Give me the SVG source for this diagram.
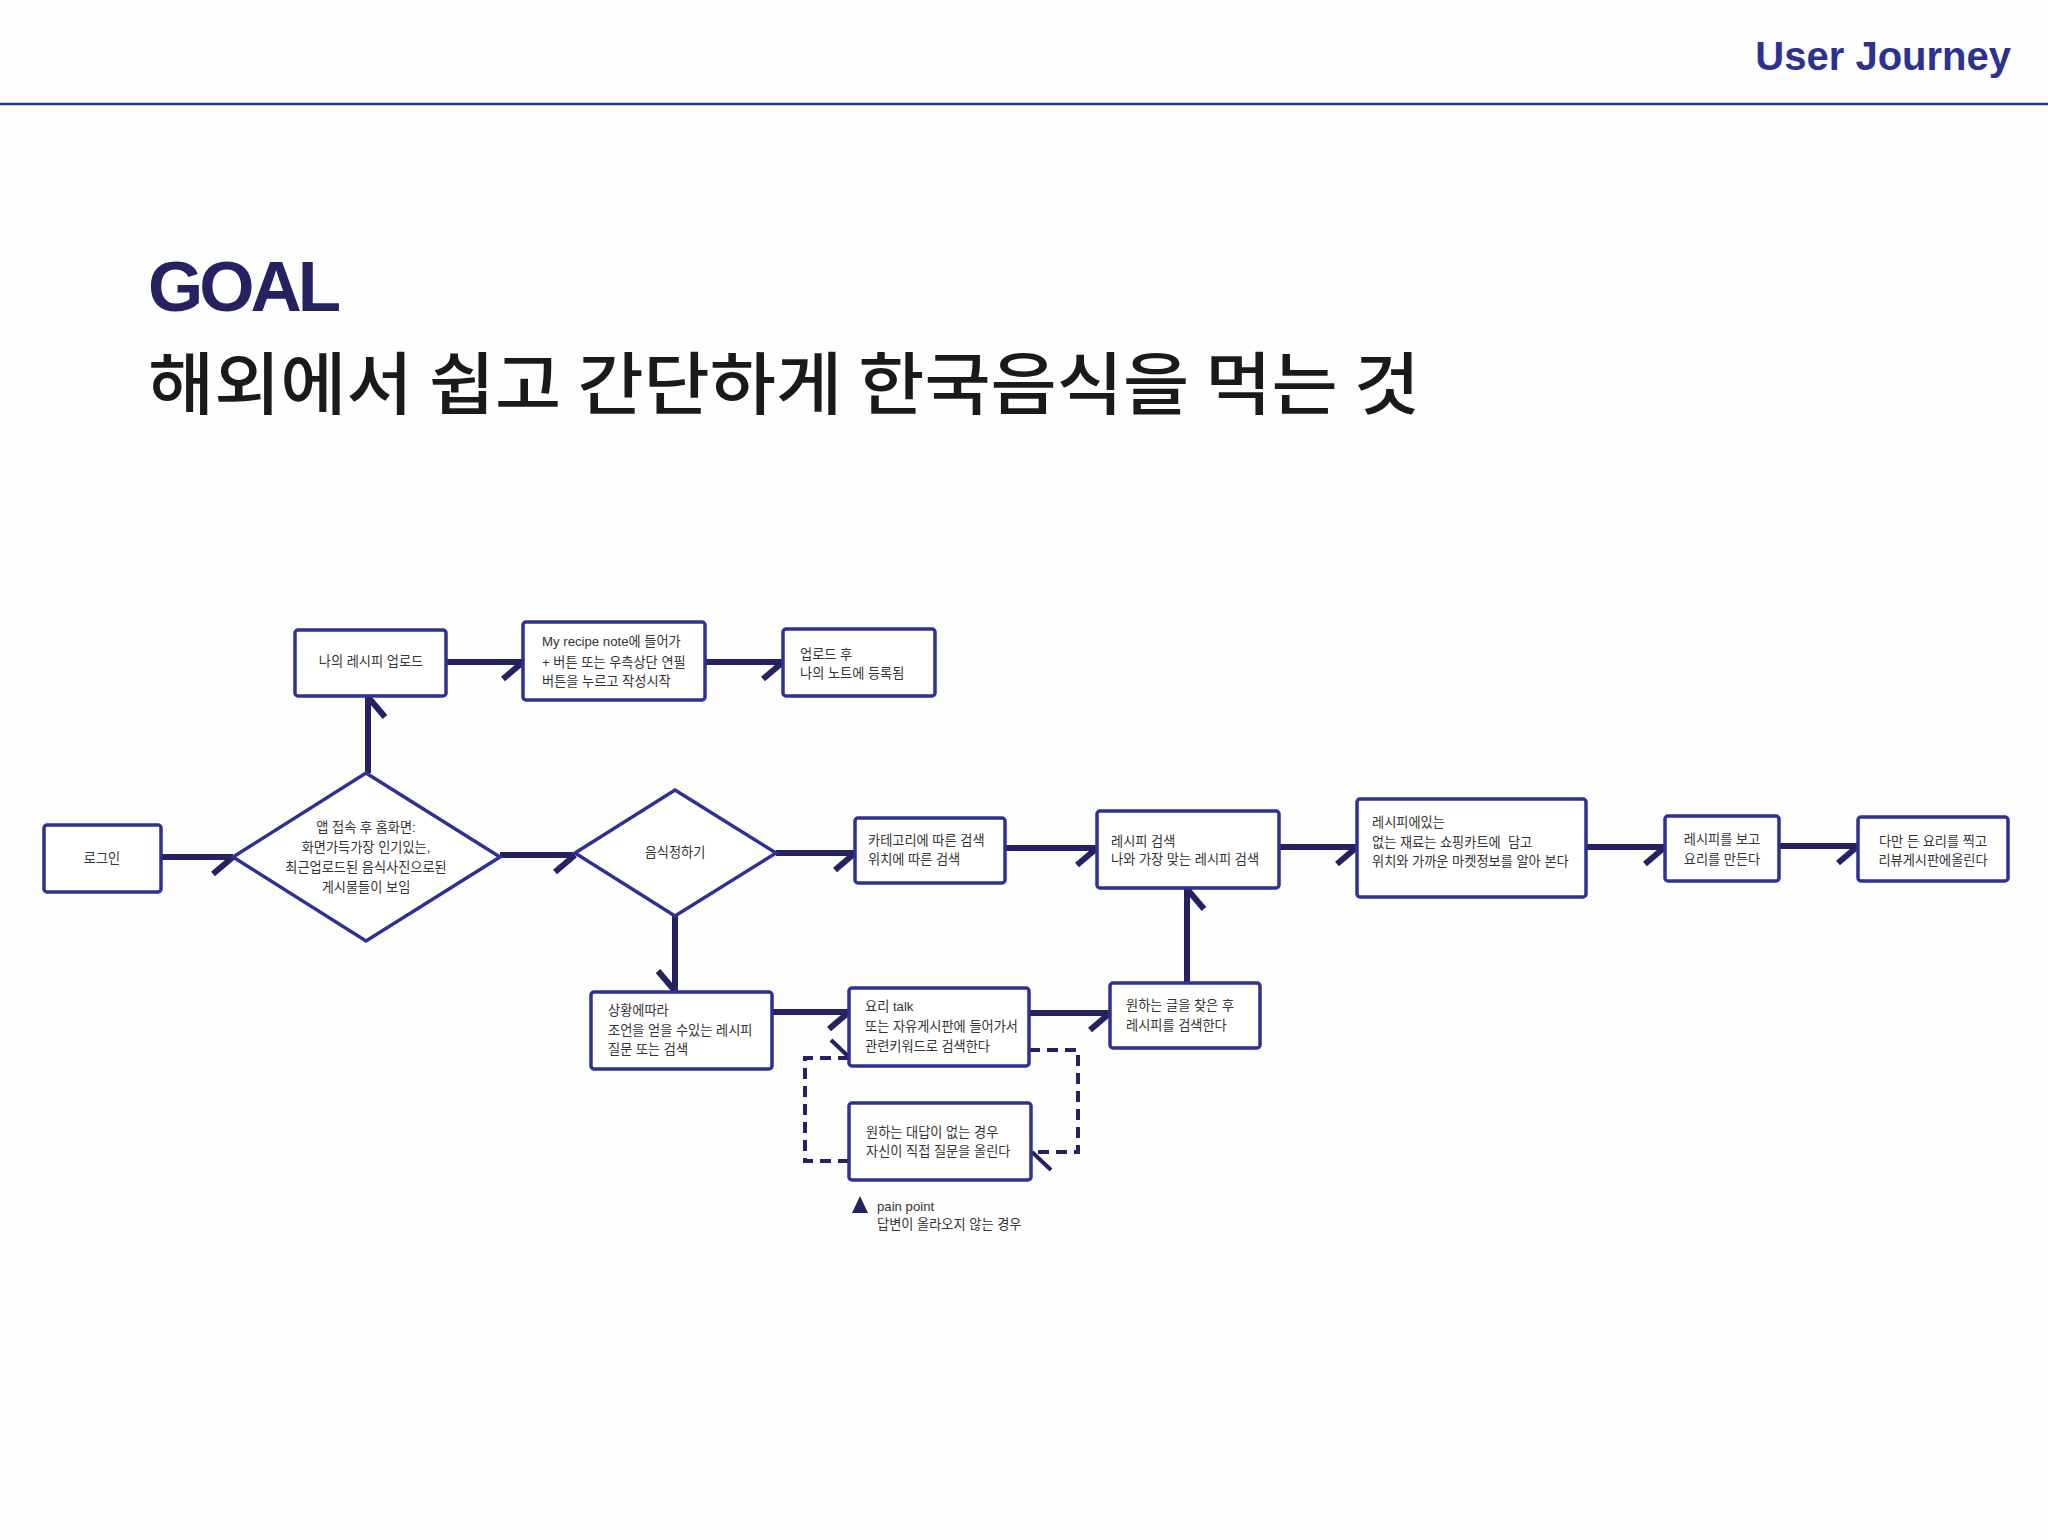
<svg xmlns="http://www.w3.org/2000/svg" width="2048" height="1540" viewBox="0 0 2048 1540">
<defs>
<style>
.box{fill:#ffffff;stroke:#2e3192;stroke-width:3.5}
.dia{fill:#ffffff;stroke:#2e3192;stroke-width:3.5}
.t{font-family:"Liberation Sans","Noto Sans CJK KR",sans-serif;font-size:13.2px;fill:#333333}
.c{text-anchor:middle}
.conn{fill:none;stroke:#262262;stroke-width:6}
.dash{fill:none;stroke:#262262;stroke-width:4;stroke-dasharray:11 7}
</style>
<marker id="barb" markerUnits="userSpaceOnUse" markerWidth="40" markerHeight="40" refX="0" refY="0" orient="auto" overflow="visible">
<path d="M0,0 L-20,17" stroke="#262262" stroke-width="6" fill="none"/>
</marker>
<marker id="barb2" markerUnits="userSpaceOnUse" markerWidth="40" markerHeight="40" refX="0" refY="0" orient="auto" overflow="visible">
<path d="M0,0 L-19,-18" stroke="#262262" stroke-width="4" fill="none"/>
</marker>
</defs>
<rect x="0" y="0" width="2048" height="1540" fill="#fdfdfd"/>
<g id="header">
<line x1="0" y1="104" x2="2048" y2="104" stroke="#2e3192" stroke-width="2.5"/>
<text x="2011" y="70" text-anchor="end" font-family="Liberation Sans, sans-serif" font-weight="bold" font-size="40" fill="#2e3192">User Journey</text>
<text x="148" y="311" font-family="Liberation Sans, sans-serif" font-weight="bold" font-size="71" fill="#262262" textLength="193" lengthAdjust="spacing">GOAL</text>
<text x="148" y="409" font-family="Noto Sans CJK KR, sans-serif" font-weight="500" font-size="68" fill="#1a1a1a" textLength="1272" lengthAdjust="spacingAndGlyphs">해외에서 쉽고 간단하게 한국음식을 먹는 것</text>
</g>
<g id="connectors">
<line class="conn" x1="161" y1="857" x2="233" y2="857" marker-end="url(#barb)"/>
<line class="conn" x1="368" y1="773" x2="368" y2="697" marker-end="url(#barb)"/>
<line class="conn" x1="446" y1="662" x2="523" y2="662" marker-end="url(#barb)"/>
<line class="conn" x1="705" y1="662" x2="783" y2="662" marker-end="url(#barb)"/>
<line class="conn" x1="500" y1="855" x2="575" y2="855" marker-end="url(#barb)"/>
<line class="conn" x1="776" y1="853" x2="855" y2="853" marker-end="url(#barb)"/>
<line class="conn" x1="675" y1="916" x2="675" y2="991" marker-end="url(#barb)"/>
<line class="conn" x1="1005" y1="848" x2="1097" y2="848" marker-end="url(#barb)"/>
<line class="conn" x1="1279" y1="847" x2="1357" y2="847" marker-end="url(#barb)"/>
<line class="conn" x1="1586" y1="847" x2="1665" y2="847" marker-end="url(#barb)"/>
<line class="conn" x1="1779" y1="846" x2="1858" y2="846" marker-end="url(#barb)"/>
<line class="conn" x1="772" y1="1012" x2="849" y2="1012" marker-end="url(#barb)"/>
<line class="conn" x1="1029" y1="1013" x2="1110" y2="1013" marker-end="url(#barb)"/>
<line class="conn" x1="1187" y1="983" x2="1187" y2="889" marker-end="url(#barb)"/>
<path class="dash" d="M849,1161 L805,1161 L805,1058 L850,1058" marker-end="url(#barb2)"/>
<path class="dash" d="M1029,1050 L1078,1050 L1078,1152 L1032,1152" marker-end="url(#barb2)"/>
</g>
<g id="n-login"><rect class="box" x="44" y="825" width="117" height="67" rx="3"/><text class="t c" x="102" y="863">로그인</text></g>
<g id="n-home"><polygon class="dia" points="366,773 500,857 366,941 233,857"/>
<text class="t c" x="366" y="832">앱 접속 후 홈화면:</text>
<text class="t c" x="366" y="852">화면가득가장 인기있는,</text>
<text class="t c" x="366" y="872">최근업로드된 음식사진으로된</text>
<text class="t c" x="366" y="892">게시물들이 보임</text></g>
<g id="n-upload"><rect class="box" x="295" y="630" width="151" height="66" rx="3"/><text class="t c" x="371" y="666">나의 레시피 업로드</text></g>
<g id="n-myrecipe"><rect class="box" x="523" y="622" width="182" height="78" rx="3"/>
<text class="t" x="542" y="646">My recipe note에 들어가</text>
<text class="t" x="542" y="667">+ 버튼 또는 우측상단 연필</text>
<text class="t" x="542" y="686">버튼을 누르고 작성시작</text></g>
<g id="n-registered"><rect class="box" x="783" y="629" width="152" height="67" rx="3"/>
<text class="t" x="800" y="659">업로드 후</text>
<text class="t" x="800" y="678">나의 노트에 등록됨</text></g>
<g id="n-decide"><polygon class="dia" points="675,790 776,853 675,916 575,853"/><text class="t c" x="675" y="857">음식정하기</text></g>
<g id="n-category"><rect class="box" x="855" y="818" width="150" height="65" rx="3"/>
<text class="t" x="868" y="845">카테고리에 따른 검색</text>
<text class="t" x="868" y="864">위치에 따른 검색</text></g>
<g id="n-search"><rect class="box" x="1097" y="811" width="182" height="77" rx="3"/>
<text class="t" x="1111" y="846">레시피 검색</text>
<text class="t" x="1111" y="864">나와 가장 맞는 레시피 검색</text></g>
<g id="n-shopping"><rect class="box" x="1357" y="799" width="229" height="98" rx="3"/>
<text class="t" x="1372" y="827">레시피에있는</text>
<text class="t" x="1372" y="847" xml:space="preserve">없는 재료는 쇼핑카트에  담고</text>
<text class="t" x="1372" y="866">위치와 가까운 마켓정보를 알아 본다</text></g>
<g id="n-cook"><rect class="box" x="1665" y="816" width="114" height="65" rx="3"/>
<text class="t c" x="1722" y="844">레시피를 보고</text>
<text class="t c" x="1722" y="864">요리를 만든다</text></g>
<g id="n-review"><rect class="box" x="1858" y="817" width="150" height="64" rx="3"/>
<text class="t c" x="1933" y="846">다만 든 요리를 찍고</text>
<text class="t c" x="1933" y="865">리뷰게시판에올린다</text></g>
<g id="n-situation"><rect class="box" x="591" y="992" width="181" height="77" rx="3"/>
<text class="t" x="608" y="1015">상황에따라</text>
<text class="t" x="608" y="1035">조언을 얻을 수있는 레시피</text>
<text class="t" x="608" y="1054">질문 또는 검색</text></g>
<g id="n-talk"><rect class="box" x="849" y="988" width="180" height="78" rx="3"/>
<text class="t" x="865" y="1011">요리 talk</text>
<text class="t" x="865" y="1031">또는 자유게시판에 들어가서</text>
<text class="t" x="865" y="1051">관련키워드로 검색한다</text></g>
<g id="n-found"><rect class="box" x="1110" y="983" width="150" height="65" rx="3"/>
<text class="t" x="1126" y="1010">원하는 글을 찾은 후</text>
<text class="t" x="1126" y="1030">레시피를 검색한다</text></g>
<g id="n-ask"><rect class="box" x="849" y="1103" width="182" height="77" rx="3"/>
<text class="t" x="866" y="1137">원하는 대답이 없는 경우</text>
<text class="t" x="866" y="1156">자신이 직접 질문을 올린다</text></g>
<g id="painpoint">
<polygon points="852,1213 860,1196 868,1213" fill="#262262"/>
<text class="t" x="877" y="1211">pain point</text>
<text class="t" x="877" y="1229">답변이 올라오지 않는 경우</text>
</g>
</svg>
